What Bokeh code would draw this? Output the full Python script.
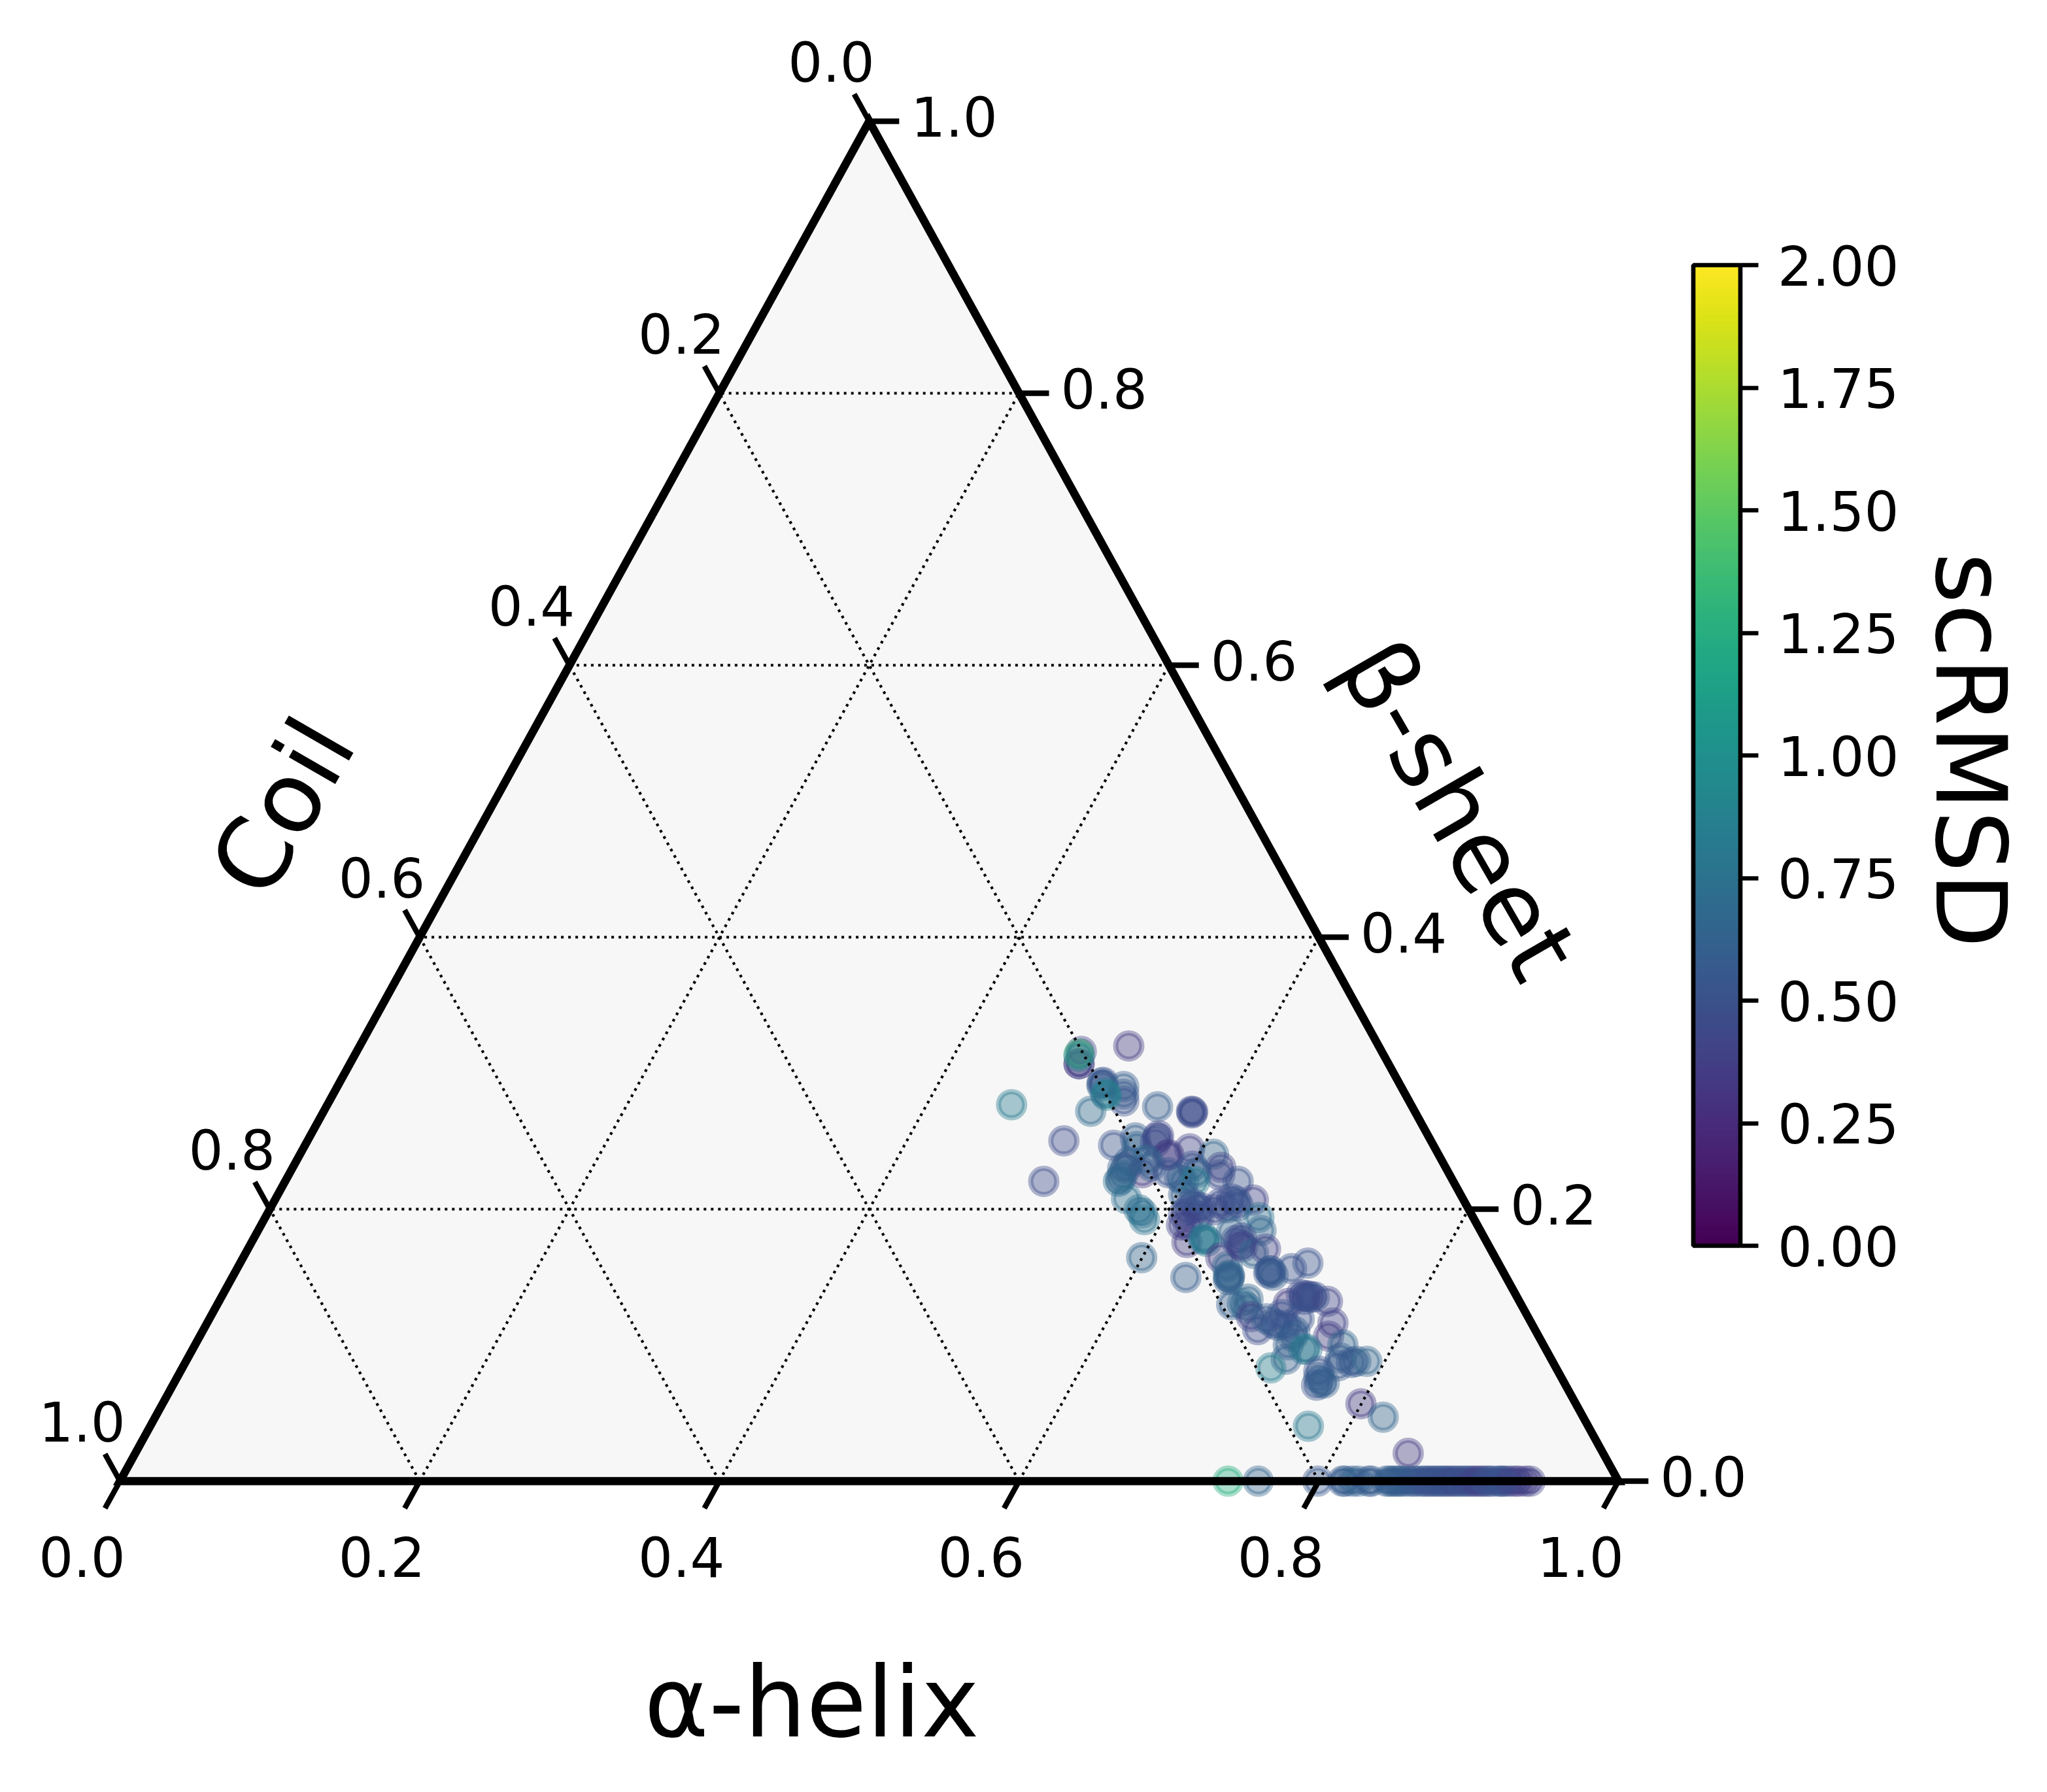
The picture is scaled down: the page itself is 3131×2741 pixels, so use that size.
from bokeh.plotting import figure
from bokeh.models import ColorBar, LinearColorMapper, FixedTicker, PrintfTickFormatter, ColumnDataSource
from bokeh.palettes import Viridis256
from bokeh.core.properties import value
from bokeh.embed import file_html
from bokeh.resources import INLINE

# Ternary compositions: alpha-helix, beta-sheet, scRMSD
alpha_helix = [
 .5132,.4835,.4866,.4866,.4830,.4838,.5091,.5099,.5094,.5248,.5301,.5276,.5164,.5149,.4566,.5118,.5548,
 .5800,.5801,.5791,.5048,.5063,.5396,.5514,.5556,.5661,.5662,.5664,.5799,.5792,.5917,.6096,.6192,.6213,
 .6360,.6530,.5564,.5542,.5561,.5689,.5670,.5723,.5561,.5567,.5566,.5678,.5803,.5837,.5875,.5997,.6364,
 .5863,.5952,.5999,.6052,.5997,.6070,.6045,.6135,.6180,.6130,.6209,.6117,.6227,.6143,.6186,.6243,.6340,
 .6370,.6343,.6525,.6600,.6655,.6384,.6381,.6418,.6324,.6449,.6305,.6631,.6693,.6501,.6562,.6607,.6630,
 .6591,.6727,.6791,.6907,.6901,.7037,.7126,
 .6644,.6647,.6656,.6938,.6900,.7144,.7199,.7225,.7247,.7272,.7237,.7397,.7294,.7514,.7533,.7272,.7291,
 .6859,.6838,.6770,.6883,.6945,.7036,.7054,.7114,.7151,.7209,.7140,.7293,.7296,.7334,.7436,.7414,.7264,
 .7596,.7660,.7693,.7707,.7807,.7782,.7880,.7633,.7650,.7676,.7620,.7997,.8195,.7729,.8495,
 .7395,.7596,.7993,.8159,.8176,.8224,.8264,.8333,.8351,.8451,.8495,.8538,.8595,.8682,.8726,.8770,.8813,
 .8874,.8962,.9005,.9092,.9136,.9193,.9250,.9311,.9337,.9380,.9411,
 .8473,.8517,.8560,.8626,.8648,.8704,.8748,.8792,.8835,.8853,.8896,.8918,.8940,.8983,.9027,.9049,.9071,
 .9114,.9158,.9215,.9228,.9280,
]
beta_sheet = [
 .3200,.3160,.3069,.3069,.3141,.3125,.2925,.2909,.2933,.2901,.2796,.2845,.2837,.2853,.2768,.2720,.2753,
 .2708,.2716,.2720,.2502,.2204,.2470,.2524,.2460,.2540,.2524,.2492,.2401,.2396,.2444,.2404,.2308,.2252,
 .2204,.2067,.2308,.2300,.2348,.2268,.2364,.2316,.2204,.2220,.2252,.2078,.1995,.1971,.1923,.1643,.1498,
 .2268,.2236,.2316,.2268,.2204,.2204,.2107,.2043,.2011,.1995,.2011,.1963,.1947,.1883,.1883,.1755,.1779,
 .1763,.1787,.1643,.1578,.1498,.2011,.2075,.2059,.2043,.2027,.1995,.1939,.1843,.1835,.1771,.1739,.1723,
 .1787,.1675,.1707,.1546,.1530,.1563,.1603,
 .1506,.1514,.1482,.1514,.1546,.1306,.1370,.1362,.1362,.1354,.1338,.1322,.1354,.1162,.1066,.1194,.1098,
 .1338,.1306,.1298,.1274,.1210,.1114,.1194,.1162,.1146,.1146,.1226,.1066,.1002,.0897,.0970,.0970,.0833,
 .0809,.1002,.0905,.0849,.0881,.0873,.0881,.0705,.0729,.0721,.0761,.0569,.0470,.0404,.0204,
 0,0,0,0,0,0,0,0,0,0,0,0,0,0,0,0,0,0,0,0,0,0,0,0,0,0,0,0,
 0,0,0,0,0,0,0,0,0,0,0,0,0,0,0,0,0,0,0,0,0,0,
]
scrmsd = [
 .35,.40,.35,.35,1.40,.82,.55,.58,.50,.58,.50,.55,.90,.82,.82,.68,.58,
 .45,.45,.45,.45,.45,.50,.58,.65,.40,.45,.45,.35,.35,.40,.65,.40,.45,
 .50,.40,.40,.60,.60,.35,.65,.58,.72,.65,.65,.72,.72,.72,.76,.65,.58,
 .50,.55,.50,.58,.65,.82,.58,.50,.50,.50,.50,.45,.50,.40,.40,.35,.72,
 .82,.80,.35,.65,.65,.50,.50,.50,.45,.50,.45,.72,.65,.65,.50,.40,.40,
 .45,.65,.40,.58,.50,.50,.50,
 .65,.65,.60,.58,.55,.35,.45,.45,.45,.45,.45,.40,.50,.40,.35,.50,.58,
 .65,.72,.58,.65,.40,.45,.58,.55,.55,.50,.50,.58,.58,.60,.82,.76,.85,
 .50,.65,.58,.55,.58,.55,.65,.50,.58,.60,.58,.35,.65,.80,.35,
 1.25,.65,.55,.55,.58,.58,.65,.55,.58,.58,.60,.58,.55,.55,.55,.50,.50,
 .50,.72,.50,.35,.50,.50,.50,.35,.35,.35,.40,
 .58,.58,.58,.55,.55,.50,.50,.50,.50,.50,.45,.45,.50,.45,.45,.40,.40,
 .50,.50,.50,.50,.40,
]

ternary_ticks = [0.0, 0.2, 0.4, 0.6, 0.8, 1.0]
tick_labels = ["0.0", "0.2", "0.4", "0.6", "0.8", "1.0"]
grid_levels = [0.2, 0.4, 0.6, 0.8]
colorbar_ticks = [0, 0.25, 0.5, 0.75, 1.0, 1.25, 1.5, 1.75, 2.0]

W, H = 3115, 2725
SIDE, TALL = 2292.0, 2080.0
LEFT, BOTTOM = 183.0, H - 2265.0
FONT = value("DejaVu Sans")
TICK_FS = "83.3px"
TITLE_FS = "150px"


def tx(a, b):
    return a + b / 2.0


p = figure(width=W, height=H, output_backend="svg", toolbar_location=None,
           x_range=(-LEFT / SIDE, (W - LEFT) / SIDE),
           y_range=(-BOTTOM / TALL, (H - BOTTOM) / TALL),
           x_axis_type=None, y_axis_type=None, min_border=0,
           outline_line_color=None, background_fill_color="white", border_fill_color="white")
p.grid.visible = False

# triangle background
p.patch([tx(0, 0), tx(1, 0), tx(0, 1)], [0, 0, 1], fill_color="#f7f7f7", line_color=None)

# points
mapper = LinearColorMapper(palette=Viridis256, low=0, high=2)
src = ColumnDataSource(dict(x=[tx(a, b) for a, b in zip(alpha_helix, beta_sheet)],
                            y=beta_sheet, s=scrmsd))
p.scatter("x", "y", source=src, marker="circle", size=40,
          fill_color={"field": "s", "transform": mapper},
          line_color={"field": "s", "transform": mapper},
          fill_alpha=0.4, line_alpha=0.4, line_width=8)

# dotted grid
gx, gy = [], []
for g in grid_levels:
    gx.append([tx(1 - g, g), tx(0, g)]);   gy.append([g, g])        # beta = g
    gx.append([tx(g, 0), tx(g, 1 - g)]);   gy.append([0, 1 - g])    # alpha = g
    gx.append([tx(1 - g, 0), tx(0, 1 - g)]); gy.append([0, 1 - g])  # coil = g
p.multi_line(gx, gy, line_color="black", line_width=4.17, line_dash="4 7", line_cap="butt")

# ticks
T = 0.02
tkx, tky = [], []
for t in ternary_ticks:
    tkx.append([tx(t, 0), tx(t, -T)]);             tky.append([0, -T])
    tkx.append([tx(1 - t, t), tx(1 - t + T, t)]);  tky.append([t, t])
    tkx.append([tx(0, 1 - t), tx(-T, 1 - t + T)]); tky.append([1 - t, 1 - t + T])
p.multi_line(tkx, tky, line_color="black", line_width=8.3, line_cap="butt")

# triangle edges
p.line([tx(0, 0), tx(1, 0), tx(0, 1), tx(0, 0), tx(1, 0)], [0, 0, 1, 0, 0],
       line_color="black", line_width=12.5, line_join="miter")


def labels(xs, ys, texts, dx=0, dy=0, size=TICK_FS, angle=0):
    p.text(xs, ys, text=texts, x_offset=dx, y_offset=dy, angle=angle, angle_units="deg",
           text_align="center", text_baseline="middle", text_font=FONT,
           text_font_size=size, text_color="black")


labels([tx(t, 0) for t in ternary_ticks], [0] * 6, tick_labels, -58, 115)
labels([tx(1 - t, t) for t in ternary_ticks], ternary_ticks, tick_labels, 130, -8)
labels([tx(0, 1 - t) for t in ternary_ticks], [1 - t for t in ternary_ticks], tick_labels, -58, -92)

labels([tx(0, .5)], [.5], ["Coil"], -324, 9, TITLE_FS, 60)
labels([tx(.5, .5)], [.5], ["β-sheet"], 328, 13, TITLE_FS, -60)
labels([tx(.5, 0)], [0], ["α-helix"], -88, 338, TITLE_FS)
labels([(3013 - LEFT) / SIDE], [(2265 - 1147) / TALL], ["scRMSD"], 0, 0, TITLE_FS, -90)

cb = ColorBar(color_mapper=mapper, ticker=FixedTicker(ticks=colorbar_ticks),
              formatter=PrintfTickFormatter(format="%.2f"),
              location=(2589.5, H - 1905), width=72, height=1500, padding=0, margin=0,
              bar_line_color="black", bar_line_width=6.67,
              major_tick_line_color="black", major_tick_line_width=6.67,
              major_tick_in=0, major_tick_out=27, minor_tick_line_color=None,
              label_standoff=30, major_label_text_font="DejaVu Sans",
              major_label_text_font_size=TICK_FS, major_label_text_color="black",
              background_fill_color=None, border_line_color=None)
p.add_layout(cb, "center")

open("out.html", "w").write(file_html(p, INLINE))
